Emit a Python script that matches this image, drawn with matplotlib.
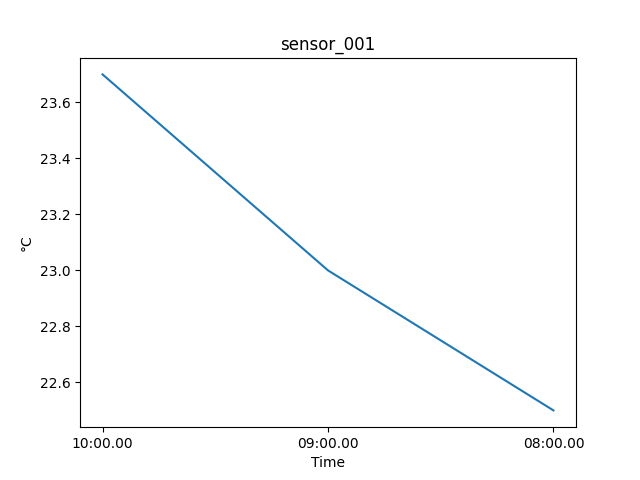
import matplotlib
matplotlib.use('Agg')
import matplotlib.pyplot as plt

# Data
times = ['10:00.00', '09:00.00', '08:00.00']
temps = [23.7, 23.0, 22.5]

fig, ax = plt.subplots(figsize=(6.4, 4.8), dpi=100)
ax.plot(times, temps)
ax.set_title('sensor_001')
ax.set_xlabel('Time')
ax.set_ylabel('°C')

fig.savefig('out.png')
